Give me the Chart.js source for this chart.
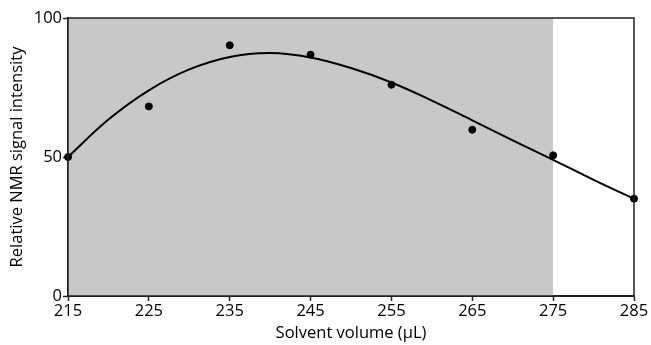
<!DOCTYPE html>
<html>
<head>
<meta charset="utf-8">
<script src="https://cdn.jsdelivr.net/npm/chart.js@4"></script>
<style>
  html, body { margin: 0; padding: 0; background: #fff; }
  #wrap { width: 651px; height: 345px; }
</style>
</head>
<body>
<div id="wrap"><canvas id="chart" width="651" height="345"></canvas></div>
<script>
// measured points
var volumes = [215, 225, 235, 245, 255, 265, 275, 285];
var intensity = [50, 68.2, 90.2, 86.8, 76, 59.8, 50.6, 35];

// fitted curve
var curveX = [215, 220, 225, 230, 235, 240, 245, 250, 255, 260, 265, 270, 275, 280, 285];
var curveY = [50, 63.5, 74, 81.5, 86, 87.4, 85.8, 82, 76.8, 70.3, 63.2, 56, 49, 41.8, 35];

// grey region
var shadeX = [215, 275];
var shadeTop = 100;

var xTicks = [215, 225, 235, 245, 255, 265, 275, 285];
var yTicks = [0, 50, 100];

var font = { family: "'Open Sans', 'Noto Sans', sans-serif", size: 16.5 };
var ink = '#222';

// draw the box round the plot
var framePlugin = {
    id: 'frame',
    afterDatasetsDraw: function(chart) {
        var a = chart.chartArea;
        var c = chart.ctx;
        c.save();
        c.strokeStyle = ink;
        c.lineWidth = 1.5;
        c.strokeRect(a.left, a.top, a.right - a.left, a.bottom - a.top);
        c.restore();
    }
};

var ctx = document.getElementById('chart');
new Chart(ctx, {
    type: 'scatter',
    data: {
        datasets: [
            {
                type: 'line',
                data: shadeX.map(function(x) { return { x: x, y: shadeTop }; }),
                fill: 'origin',
                backgroundColor: '#c8c8c8',
                borderWidth: 0,
                pointRadius: 0,
                order: 3
            },
            {
                type: 'line',
                data: curveX.map(function(x, i) { return { x: x, y: curveY[i] }; }),
                borderColor: '#000',
                borderWidth: 2,
                pointRadius: 0,
                fill: false,
                tension: 0.4,
                clip: false,
                order: 2
            },
            {
                data: volumes.map(function(x, i) { return { x: x, y: intensity[i] }; }),
                backgroundColor: '#000',
                borderColor: '#000',
                pointRadius: 3.5,
                clip: false,
                order: 1
            }
        ]
    },
    options: {
        responsive: false,
        animation: false,
        events: [],
        layout: { padding: { top: 18, right: 17, left: 0, bottom: 0 } },
        plugins: { legend: { display: false }, tooltip: { enabled: false } },
        scales: {
            x: {
                type: 'linear',
                min: 215,
                max: 285,
                afterBuildTicks: function(s) { s.ticks = xTicks.map(function(v) { return { value: v }; }); },
                afterFit: function(s) { s.height = 49; },
                grid: { drawOnChartArea: false, tickLength: 5, tickColor: ink, tickWidth: 1.5 },
                border: { color: ink, width: 2 },
                ticks: { color: '#000', font: font, padding: 0, maxRotation: 0 },
                title: { display: true, text: 'Solvent volume (µL)', color: '#000', font: font, padding: { top: 0, bottom: 2 } }
            },
            y: {
                min: 0,
                max: 100,
                afterBuildTicks: function(s) { s.ticks = yTicks.map(function(v) { return { value: v }; }); },
                afterFit: function(s) { s.width = 68; },
                grid: { drawOnChartArea: false, tickLength: 5, tickColor: ink, tickWidth: 1.5 },
                border: { color: ink, width: 2 },
                ticks: { color: '#000', font: font, padding: 1 },
                title: { display: true, text: 'Relative NMR signal intensity', color: '#000', font: font, padding: { top: 7, bottom: 0 } }
            }
        }
    },
    plugins: [framePlugin]
});
</script>
</body>
</html>
